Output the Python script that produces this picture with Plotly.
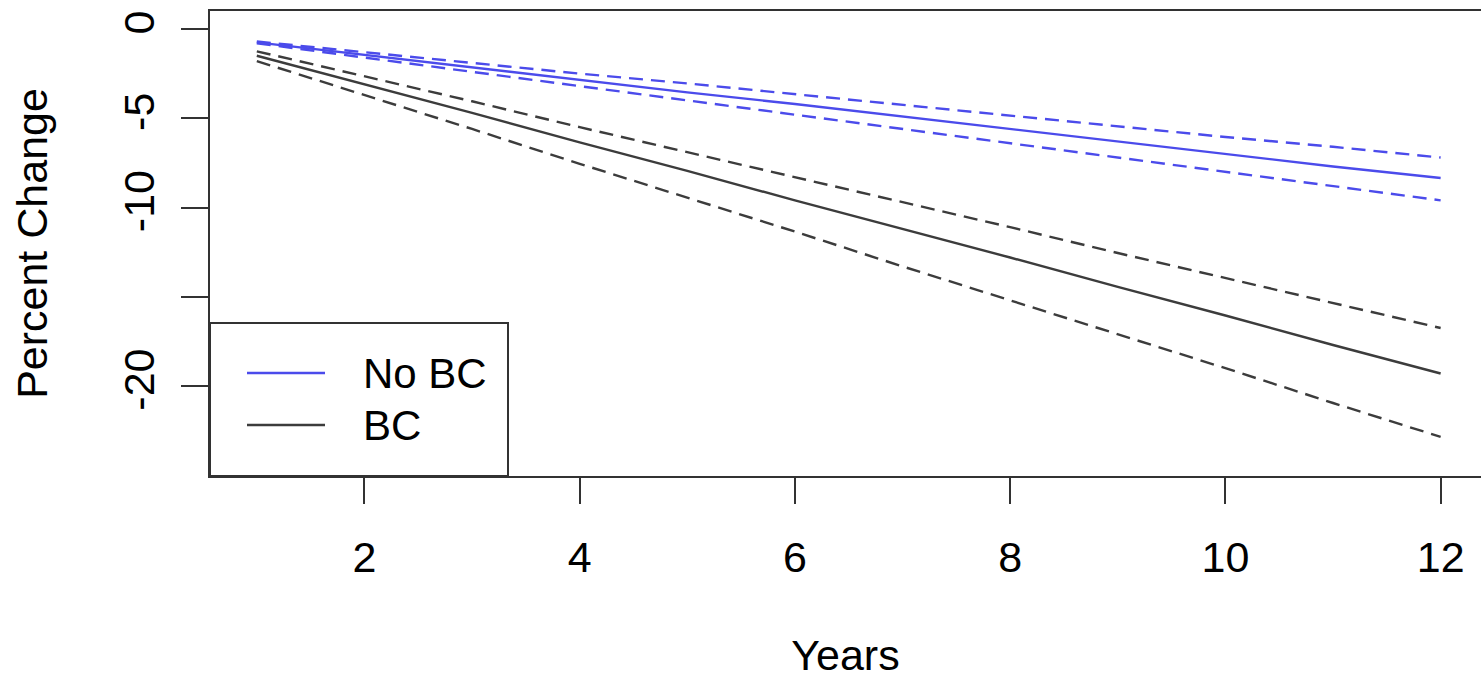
import plotly.graph_objects as go

# ---- data ----
years = [1, 2, 3, 4, 5, 6, 7, 8, 9, 10, 11, 12]

nobc_mean = [-0.75, -1.45, -2.15, -2.85, -3.55, -4.2, -4.9, -5.6, -6.3, -7.0, -7.7, -8.35]
nobc_upper = [-0.7, -1.3, -1.9, -2.5, -3.05, -3.65, -4.25, -4.85, -5.45, -6.05, -6.6, -7.2]
nobc_lower = [-0.8, -1.6, -2.4, -3.2, -4.0, -4.8, -5.6, -6.4, -7.2, -8.0, -8.8, -9.6]

bc_mean = [-1.5, -3.1, -4.7, -6.35, -7.95, -9.6, -11.2, -12.8, -14.45, -16.05, -17.7, -19.3]
bc_upper = [-1.25, -2.65, -4.05, -5.5, -6.9, -8.3, -9.7, -11.1, -12.55, -13.95, -15.35, -16.75]
bc_lower = [-1.8, -3.7, -5.6, -7.55, -9.45, -11.35, -13.3, -15.2, -17.1, -19.0, -20.95, -22.85]

x_ticks = [2, 4, 6, 8, 10, 12]
y_ticks = [0, -5, -10, -15, -20]
y_ticktext = ["0", "-5", "-10", "", "-20"]

series_names = ["No BC", "BC"]

# ---- styles ----
BLUE = "rgb(75,75,235)"
GREY = "rgb(60,60,60)"
AXIS = "rgb(50,50,50)"
FONT = "Liberation Sans, Arial, Helvetica, sans-serif"
DASH = "14px,8px"
LW = 2.4

W, H = 1481, 679
L, R, T, B = 210, 0, 11, 203
PW, PH = W - L - R, H - T - B

fig = go.Figure()

for ys, dash in [(nobc_upper, DASH), (nobc_lower, DASH), (nobc_mean, "solid")]:
    fig.add_trace(go.Scatter(x=years, y=ys, mode="lines", name=series_names[0],
                             line=dict(color=BLUE, width=LW, dash=dash),
                             showlegend=False, hoverinfo="skip"))
for ys, dash in [(bc_upper, DASH), (bc_lower, DASH), (bc_mean, "solid")]:
    fig.add_trace(go.Scatter(x=years, y=ys, mode="lines", name=series_names[1],
                             line=dict(color=GREY, width=LW, dash=dash),
                             showlegend=False, hoverinfo="skip"))

def px_x(p):
    return (p - L) / PW

def px_y(p):
    return (H - B - p) / PH

# legend drawn like R's legend("bottomleft")
shapes = [dict(type="rect", xref="paper", yref="paper",
               x0=px_x(210), x1=px_x(508), y0=px_y(476), y1=px_y(323),
               line=dict(color=AXIS, width=2), fillcolor="white", layer="above")]
annotations = []
for name, color, ypx in [(series_names[0], BLUE, 373), (series_names[1], GREY, 425)]:
    shapes.append(dict(type="line", xref="paper", yref="paper",
                       x0=px_x(247), x1=px_x(325), y0=px_y(ypx), y1=px_y(ypx),
                       line=dict(color=color, width=LW), layer="above"))
    annotations.append(dict(text=name, xref="paper", yref="paper",
                            x=px_x(361), y=px_y(ypx), xanchor="left", yanchor="middle",
                            showarrow=False, font=dict(family=FONT, size=42, color="black")))

fig.update_layout(
    width=W, height=H,
    margin=dict(l=L, r=R, t=T, b=B, pad=0),
    paper_bgcolor="white", plot_bgcolor="white",
    font=dict(family=FONT, size=42, color="black"),
    shapes=shapes, annotations=annotations,
    showlegend=False,
)
fig.update_xaxes(
    range=[0.565, 12.375], tickvals=x_ticks, ticktext=[str(v) for v in x_ticks],
    showgrid=False, zeroline=False,
    showline=True, linecolor=AXIS, linewidth=2, mirror=True,
    ticks="outside", ticklen=26, tickwidth=2, tickcolor=AXIS,
    ticklabelstandoff=16,
    tickfont=dict(family=FONT, size=43, color="black"),
    title=dict(text="Years", font=dict(family=FONT, size=43, color="black"), standoff=62),
)
fig.update_yaxes(
    range=[-25.04, 1.008], tickvals=y_ticks, ticktext=y_ticktext, tickangle=-90,
    showgrid=False, zeroline=False,
    showline=True, linecolor=AXIS, linewidth=2, mirror=False,
    ticks="outside", ticklen=27, tickwidth=2, tickcolor=AXIS,
    ticklabelstandoff=10,
    tickfont=dict(family=FONT, size=43, color="black"),
    title=dict(text="Percent Change", font=dict(family=FONT, size=43, color="black"), standoff=54),
)

fig.write_html("out.html")
